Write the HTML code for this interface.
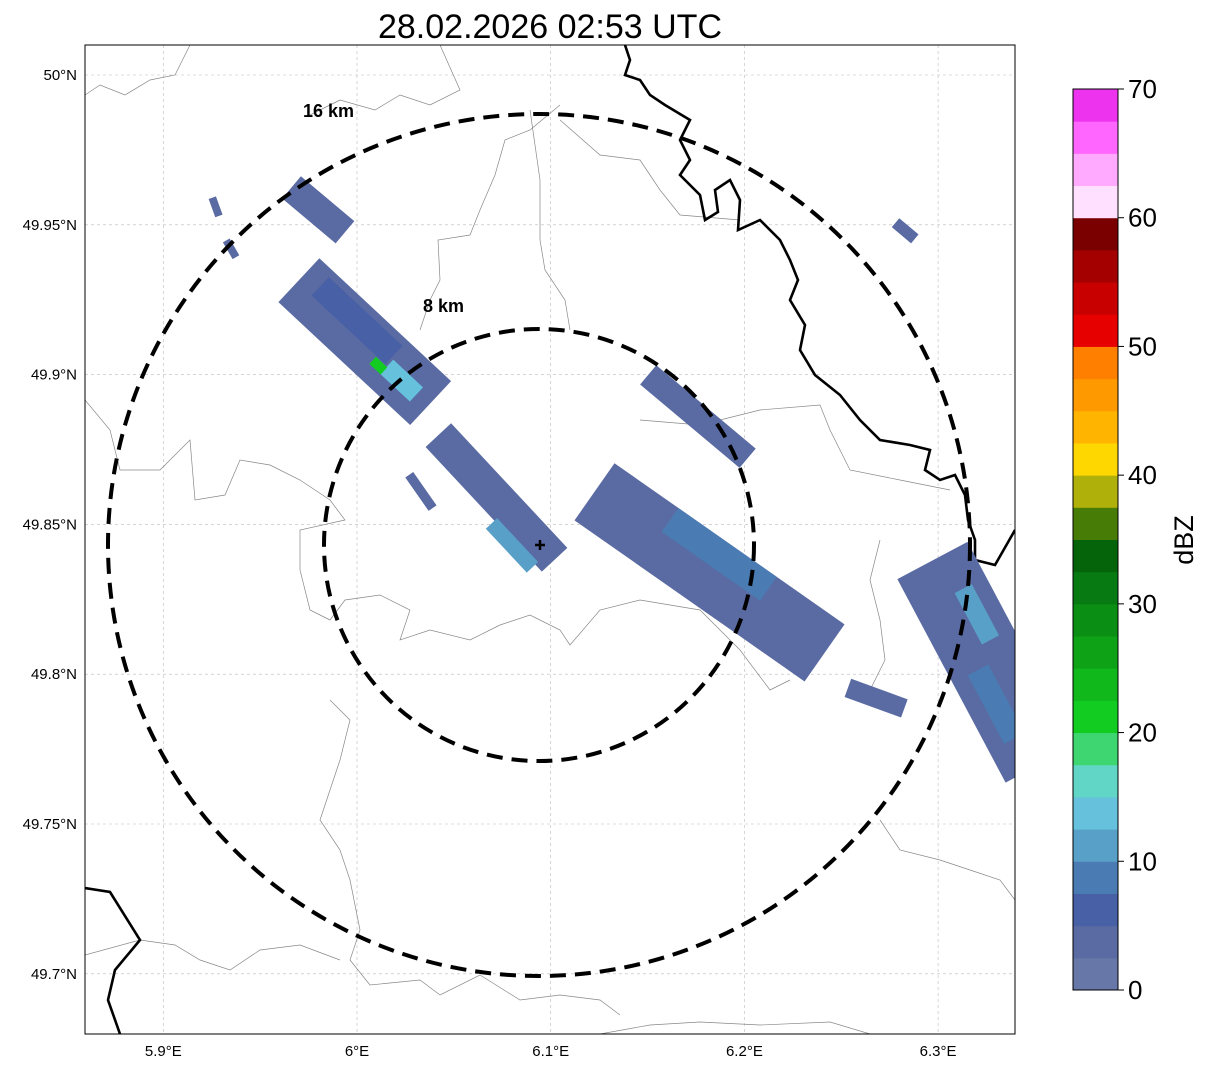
<!DOCTYPE html>
<html><head><meta charset="utf-8"><style>
body{margin:0;background:#fff;font-family:"Liberation Sans",sans-serif}
svg{display:block}
</style></head><body>
<svg id="chart" width="1207" height="1069" xmlns="http://www.w3.org/2000/svg">
<text x="550" y="38" text-anchor="middle" font-size="34">28.02.2026 02:53 UTC</text>
<defs><clipPath id="mapclip"><rect x="85" y="45" width="930" height="989"/></clipPath></defs>
<g id="map" clip-path="url(#mapclip)">
<g id="grid"></g>
<g fill="none" stroke="#888" stroke-width="0.7">
<path d="M85,95 L100,85 L125,95 L150,80 L175,75 L185,55 L190,45"/>
<path d="M440,45 L460,90 L430,105 L400,95 L375,110 L340,100 L310,115"/>
<path d="M560,105 L530,130 L505,140 L495,175 L480,210 L470,235 L438,240 L440,280 L430,300 L420,330"/>
<path d="M530,110 L540,180 L540,240 L545,270 L565,300 L570,330"/>
<path d="M560,120 L600,155 L640,160 L660,190 L680,215 L740,220"/>
<path d="M85,400 L110,430 L120,470 L160,470 L190,440 L195,500 L225,495 L240,460 L270,465 L300,480 L330,500 L345,520 L300,530 L300,570 L310,610 L330,620 L345,600 L380,595 L410,610 L400,640 L430,630 L470,640 L500,625 L530,615 L560,630 L570,645 L600,610 L640,600 L700,610 L740,650 L770,690 L790,680"/>
<path d="M640,420 L700,425 L760,410 L820,405 L830,430 L850,470 L900,480 L950,490"/>
<path d="M330,700 L350,720 L340,760 L330,790 L320,820 L340,850 L350,880 L360,930 L350,960 L370,985 L420,980 L440,995 L480,975 L520,1000 L560,995 L600,1000 L620,1015"/>
<path d="M85,955 L140,940 L175,945 L200,960 L230,970 L260,950 L300,945 L340,960"/>
<path d="M880,540 L870,580 L880,620 L885,660 L870,690"/>
<path d="M880,820 L900,850 L940,860 L970,870 L1000,880 L1015,900"/>
<path d="M600,1034 L650,1025 L700,1022 L760,1025 L830,1022 L870,1034"/>
</g>
<g fill="none" stroke="#000" stroke-width="2.6">
<path d="M625,45 L630,60 L625,75 L640,80 L650,95 L665,105 L690,120 L680,140 L690,160 L680,175 L700,195 L705,220 L718,212 L715,190 L730,180 L740,200 L738,230 L760,220 L780,240 L790,260 L798,280 L790,300 L805,325 L800,350 L815,375 L840,395 L860,420 L880,440 L910,445 L930,450 L925,470 L940,480 L955,475 L965,495 L968,520 L975,540 L975,560 L995,565 L1015,530"/>
<path d="M85,888 L110,892 L140,940 L115,970 L108,1000 L120,1034"/>
</g>
<g id="echoes"></g>
<g fill="none" stroke="#000" stroke-width="4" stroke-dasharray="16,9">
<ellipse cx="539" cy="545" rx="431" ry="431"/>
<ellipse cx="539" cy="545" rx="215" ry="216"/>
</g>
<path d="M535,545 H545 M540,540 V550" stroke="#000" stroke-width="2.5"/>
<text x="303" y="117" font-size="18" font-weight="bold">16 km</text>
<text x="423" y="312" font-size="18" font-weight="bold">8 km</text>
</g>
<rect x="85" y="45" width="930" height="989" fill="none" stroke="#000" stroke-width="1"/>
<g id="ticks" font-size="15"></g>
<g id="cbar"></g>
<text transform="translate(1193,540) rotate(-90)" text-anchor="middle" font-size="27">dBZ</text>
</svg>
<script>
const lonTicks=[5.9,6.0,6.1,6.2,6.3];
const lonLabels=["5.9°E","6°E","6.1°E","6.2°E","6.3°E"];
const latTicks=[50.0,49.95,49.9,49.85,49.8,49.75,49.7];
const latLabels=["50°N","49.95°N","49.9°N","49.85°N","49.8°N","49.75°N","49.7°N"];
const cbarTicks=[0,10,20,30,40,50,60,70];
const cbarColors=["#6677a8","#5a6ba3","#4760a6","#4a7bb2","#58a0c8","#66c2dc","#62d6c6","#3ed670","#12cc22","#10b81b","#0ea317","#0b8e14","#087a12","#05630a","#477d07","#b0b00a","#ffd700","#ffb400","#ff9900","#ff7f00","#e60000","#c80000","#a50000","#7a0000","#ffe0ff","#ffaaff","#ff66ff","#ee33ee"];
// echo blobs: lon, lat, length(deg lon), width(deg lon), orientation(deg), dBZ
const echoLon=[6.004,6.0,6.023,6.011,5.98,5.927,5.935,6.072,6.080,6.033,6.182,6.187,6.176,6.283,6.325,6.268,6.33,6.32];
const echoLat=[49.911,49.918,49.898,49.903,49.955,49.956,49.942,49.859,49.843,49.861,49.834,49.840,49.886,49.948,49.804,49.792,49.790,49.82];
const echoLen=[0.093,0.052,0.021,0.008,0.036,0.010,0.010,0.088,0.031,0.021,0.145,0.062,0.067,0.013,0.119,0.031,0.04,0.03];
const echoWid=[0.031,0.013,0.010,0.005,0.015,0.004,0.004,0.018,0.008,0.005,0.036,0.015,0.013,0.006,0.041,0.010,0.012,0.01];
const echoAng=[43,43,43,43,40,70,60,47,47,55,35,35,40,40,62,20,62,62];
const echoDbz=[3,6,14,20,3,3,3,3,10,3,4,8,3,3,4,3,9,12];
const NS="http://www.w3.org/2000/svg";
const X=lon=>357+(lon-6.0)*1937, Y=lat=>75+(50.0-lat)*2996;
function col(d){return cbarColors[Math.max(0,Math.min(27,Math.floor(d/2.5)))];}
function mk(t,a,p){const e=document.createElementNS(NS,t);for(const k in a)e.setAttribute(k,a[k]);p.appendChild(e);return e;}
const grid=document.getElementById('grid'),ticks=document.getElementById('ticks');
lonTicks.forEach((v,i)=>{const x=X(v);
 const l=mk('line',{x1:x,x2:x,y1:45,y2:1034,stroke:'#bbb','stroke-width':0.6,'stroke-dasharray':'3,3'},grid);
 
 
 const t=mk('text',{x:x,y:1056,'text-anchor':'middle'},ticks);t.textContent=lonLabels[i];
 
 });
latTicks.forEach((v,i)=>{const y=Y(v);
 const l=mk('line',{x1:85,x2:1015,y1:y,y2:y,stroke:'#bbb','stroke-width':0.6,'stroke-dasharray':'3,3'},grid);
 
 
 const t=mk('text',{x:77,y:y+5,'text-anchor':'end'},ticks);t.textContent=latLabels[i];
 
 });
const eg=document.getElementById('echoes');
echoLon.forEach((lon,i)=>{const cx=X(lon),cy=Y(echoLat[i]),L=echoLen[i]*1937,W=echoWid[i]*1937;
 const r=mk('rect',{x:cx-L/2,y:cy-W/2,width:L,height:W,fill:col(echoDbz[i]),transform:`rotate(${echoAng[i]} ${cx} ${cy})`},eg);
 
 });
const cb=document.getElementById('cbar');const cbTop=89,cbBot=990,cbH=(cbBot-cbTop)/70;
cbarColors.forEach((c,i)=>{const r=mk('rect',{x:1073,y:cbBot-(i+1)*2.5*cbH,width:45,height:2.5*cbH+0.5,fill:c},cb);
 
 });
mk('rect',{x:1073,y:cbTop,width:45,height:cbBot-cbTop,fill:'none',stroke:'#000','stroke-width':1},cb);
cbarTicks.forEach(v=>{const y=cbBot-v*cbH;
 mk('line',{x1:1118,x2:1124,y1:y,y2:y,stroke:'#000'},cb);
 const t=mk('text',{x:1128,y:y+9,'font-size':26},cb);t.textContent=v;
 
 });
</script>
</body></html>
